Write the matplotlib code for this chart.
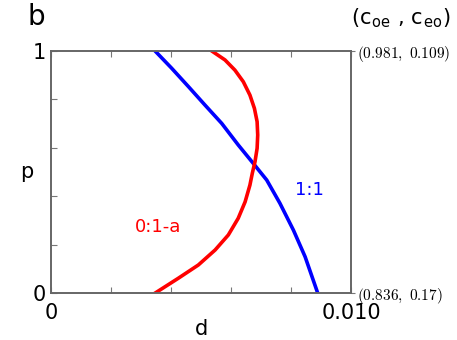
import matplotlib
matplotlib.use("Agg")
import matplotlib.pyplot as plt
import numpy as np

plt.rcParams['mathtext.fontset'] = 'cm'

# curve readings (d in units of 1e-2, p)
d_blue = [0.347, 0.402, 0.458, 0.513, 0.569, 0.624, 0.674, 0.719, 0.763, 0.808, 0.847, 0.889]
p_blue = [1.0, 0.929, 0.853, 0.777, 0.701, 0.612, 0.536, 0.467, 0.371, 0.260, 0.150, 0.0]

d_red = [0.536, 0.580, 0.613, 0.641, 0.663, 0.678, 0.687, 0.689, 0.687, 0.680, 0.671,
         0.663, 0.647, 0.624, 0.591, 0.547, 0.491, 0.424, 0.347]
p_red = [1.0, 0.963, 0.921, 0.873, 0.818, 0.763, 0.708, 0.653, 0.598, 0.543, 0.495,
         0.446, 0.377, 0.309, 0.240, 0.178, 0.116, 0.061, 0.0]

xtick_pos = [0, 0.002, 0.004, 0.006, 0.008, 0.010]
xtick_lab = ['0', '', '', '', '', '0.010']
ytick_pos = [0, 0.2, 0.4, 0.6, 0.8, 1.0]
ytick_lab = ['0', '', '', '', '', '1']
right_labels = ['(0.836, 0.17)', '(0.981, 0.109)']

fig = plt.figure(figsize=(4.57, 3.4), dpi=100)
ax = fig.add_axes([0.1116, 0.138, 0.6565, 0.712])

ax.plot(np.array(d_blue) * 0.01, p_blue, color='#0000ff', lw=2.6)
ax.plot(np.array(d_red) * 0.01, p_red, color='#ff0000', lw=2.6)

ax.set_xlim(0, 0.010)
ax.set_ylim(0, 1)
ax.set_xticks(xtick_pos)
ax.set_xticklabels(xtick_lab, fontsize=15)
ax.set_yticks(ytick_pos)
ax.set_yticklabels(ytick_lab, fontsize=15)
ax.tick_params(direction='in', top=True, right=False, length=4, color='#777777')
ax.tick_params(axis='x', pad=7)
ax.tick_params(axis='y', pad=4)
for s in ax.spines.values():
    s.set_color('#666666')
    s.set_linewidth(1.2)

ax.set_xlabel('d', fontsize=15, labelpad=-3)
ax.set_ylabel('p', fontsize=15, rotation=0, labelpad=4, va='center')

# right side annotations
ax2 = ax.twinx()
ax2.set_ylim(0, 1)
ax2.set_yticks([0, 1])
ax2.set_yticklabels(['$' + t.replace(', ', ',\\ ') + '$' for t in right_labels], fontsize=11)
ax2.tick_params(direction='out', length=3, color='#777777', pad=1)
for s in ax2.spines.values():
    s.set_color('#666666')
    s.set_linewidth(1.2)

ax.text(0.00813, 0.405, '1:1', color='#0000ff', fontsize=13, va='baseline')
ax.text(0.0028, 0.252, '0:1-a', color='#ff0000', fontsize=13, va='baseline')

fig.text(0.06, 0.95, 'b', fontsize=20, va='center')
fig.text(0.878, 0.945, r'(c$_{\mathregular{oe}}$ , c$_{\mathregular{eo}}$)', fontsize=15, ha='center', va='center')

fig.savefig('out.png', dpi=100)
